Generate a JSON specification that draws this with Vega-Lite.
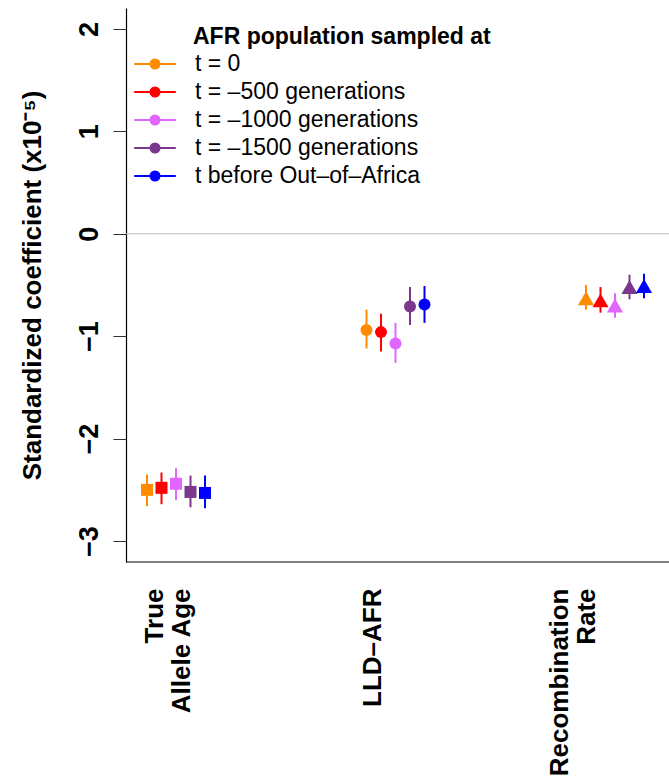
{
  "$schema": "https://vega.github.io/schema/vega-lite/v6.json",
  "width": 543,
  "height": 554,
  "autosize": {"type": "none"},
  "padding": {"left": 126, "top": 8, "right": 0, "bottom": 215},
  "title": {
    "text": "AFR population sampled at",
    "orient": "top", "anchor": "start", "frame": "group",
    "offset": 0, "dx": 67, "dy": 59, "baseline": "alphabetic",
    "fontSize": 23, "fontWeight": "bold", "color": "#000000", "font": "Liberation Sans"
  },
  "config": {
    "font": "Liberation Sans",
    "view": {"stroke": null},
    "axis": {"grid": false, "domainColor": "#000000", "domainWidth": 1.2, "tickColor": "#333333", "labelColor": "#000000", "titleColor": "#000000"},
    "axisY": {
      "labelAngle": 270, "labelFontSize": 27, "labelFontWeight": "bold", "labelAlign": "center", "labelBaseline": "alphabetic",
      "tickSize": 13, "labelPadding": 16,
      "titleFontSize": 26, "titleFontWeight": "bold", "titleAngle": 270, "titleAlign": "center", "titleBaseline": "alphabetic",
      "titleX": -86, "titleY": 277
    },
    "axisX": {
      "domain": false, "ticks": false, "labelAngle": 270, "labelFontSize": 26, "labelFontWeight": "bold", "labelAlign": "right", "labelBaseline": "middle",
      "labelPadding": 26, "labelLineHeight": 27, "labelFlush": false, "labelOverlap": false, "labelBound": false, "labelLimit": 400
    }
  },
  "datasets": {
    "coefs": [
      {"variable": "True Allele Age", "series": "t = 0", "est": -2.50, "lo": -2.66, "hi": -2.35},
      {"variable": "True Allele Age", "series": "t = –500 generations", "est": -2.48, "lo": -2.64, "hi": -2.33},
      {"variable": "True Allele Age", "series": "t = –1000 generations", "est": -2.44, "lo": -2.60, "hi": -2.29},
      {"variable": "True Allele Age", "series": "t = –1500 generations", "est": -2.52, "lo": -2.67, "hi": -2.36},
      {"variable": "True Allele Age", "series": "t before Out–of–Africa", "est": -2.53, "lo": -2.68, "hi": -2.36},
      {"variable": "LLD–AFR", "series": "t = 0", "est": -0.94, "lo": -1.12, "hi": -0.74},
      {"variable": "LLD–AFR", "series": "t = –500 generations", "est": -0.96, "lo": -1.15, "hi": -0.78},
      {"variable": "LLD–AFR", "series": "t = –1000 generations", "est": -1.07, "lo": -1.26, "hi": -0.87},
      {"variable": "LLD–AFR", "series": "t = –1500 generations", "est": -0.71, "lo": -0.89, "hi": -0.52},
      {"variable": "LLD–AFR", "series": "t before Out–of–Africa", "est": -0.69, "lo": -0.87, "hi": -0.51},
      {"variable": "Recombination Rate", "series": "t = 0", "est": -0.63, "lo": -0.74, "hi": -0.50},
      {"variable": "Recombination Rate", "series": "t = –500 generations", "est": -0.65, "lo": -0.77, "hi": -0.52},
      {"variable": "Recombination Rate", "series": "t = –1000 generations", "est": -0.70, "lo": -0.82, "hi": -0.58},
      {"variable": "Recombination Rate", "series": "t = –1500 generations", "est": -0.52, "lo": -0.64, "hi": -0.40},
      {"variable": "Recombination Rate", "series": "t before Out–of–Africa", "est": -0.51, "lo": -0.63, "hi": -0.39}
    ]
  },
  "data": {"name": "coefs"},
  "layer": [
    {
      "data": {"values": [{}]},
      "mark": {"type": "rule", "color": "#BEBEBE", "strokeWidth": 1},
      "encoding": {"y": {"datum": 0}}
    },
    {
      "data": {"values": [{}]},
      "mark": {"type": "rule", "color": "#000000", "strokeWidth": 1.2},
      "encoding": {"y": {"datum": -3.204}}
    },
    {
      "mark": {"type": "rule", "strokeWidth": 2, "opacity": 1},
      "encoding": {
        "x": {
          "field": "variable", "type": "nominal",
          "sort": ["True Allele Age", "LLD–AFR", "Recombination Rate"],
          "scale": {"type": "band", "paddingInner": 0, "paddingOuter": 0, "range": [-59.75, 598.75]},
          "title": null,
          "axis": {
            "labelExpr": "datum.value === 'True Allele Age' ? ['True', 'Allele Age'] : datum.value === 'Recombination Rate' ? ['Recombination', 'Rate'] : datum.value",
            "labelOffset": {"expr": "datum.value === 'LLD–AFR' ? -23 : datum.value === 'Recombination Rate' ? -55 : -21"}
          }
        },
        "xOffset": {
          "field": "series", "type": "nominal",
          "sort": ["t = 0", "t = –500 generations", "t = –1000 generations", "t = –1500 generations", "t before Out–of–Africa"],
          "scale": {"type": "band", "paddingInner": 0, "paddingOuter": 0, "range": [73.5, 146]}
        },
        "y": {
          "field": "lo", "type": "quantitative",
          "scale": {"domain": [-3.204, 2.204], "nice": false, "zero": false},
          "title": "Standardized coefficient (x10⁻⁵)",
          "axis": {"values": [-3, -2, -1, 0, 1, 2], "format": "d"}
        },
        "y2": {"field": "hi"},
        "color": {"field": "series", "type": "nominal"}
      }
    },
    {
      "mark": {"type": "point", "filled": true, "opacity": 1, "strokeWidth": 0},
      "encoding": {
        "x": {"field": "variable", "type": "nominal", "sort": ["True Allele Age", "LLD–AFR", "Recombination Rate"], "title": null},
        "xOffset": {"field": "series", "type": "nominal", "sort": ["t = 0", "t = –500 generations", "t = –1000 generations", "t = –1500 generations", "t before Out–of–Africa"]},
        "y": {"field": "est", "type": "quantitative", "title": "Standardized coefficient (x10⁻⁵)"},
        "shape": {
          "field": "variable", "type": "nominal", "legend": null,
          "scale": {"domain": ["True Allele Age", "LLD–AFR", "Recombination Rate"], "range": ["square", "circle", "triangle-up"]}
        },
        "size": {
          "field": "variable", "type": "nominal", "legend": null,
          "scale": {"type": "ordinal", "domain": ["True Allele Age", "LLD–AFR", "Recombination Rate"], "range": [144, 144, 260]}
        },
        "color": {
          "field": "series", "type": "nominal",
          "scale": {
            "domain": ["t = 0", "t = –500 generations", "t = –1000 generations", "t = –1500 generations", "t before Out–of–Africa"],
            "range": ["#FF8C00", "#FF0000", "#E066FF", "#7A378B", "#0000FF"]
          },
          "legend": {
            "orient": "none", "legendX": 15, "legendY": 42, "padding": 0,
            "title": null,
            "labelFontSize": 23, "labelColor": "#000000", "labelOffset": 26, "labelLimit": 500,
            "symbolType": "M-1.6,0H1.6M0.35,0A0.35,0.35,0,1,1,-0.35,0A0.35,0.35,0,1,1,0.35,0Z",
            "symbolSize": 676, "symbolStrokeWidth": 2, "symbolOpacity": 1, "rowPadding": 2
          }
        }
      }
    }
  ]
}
